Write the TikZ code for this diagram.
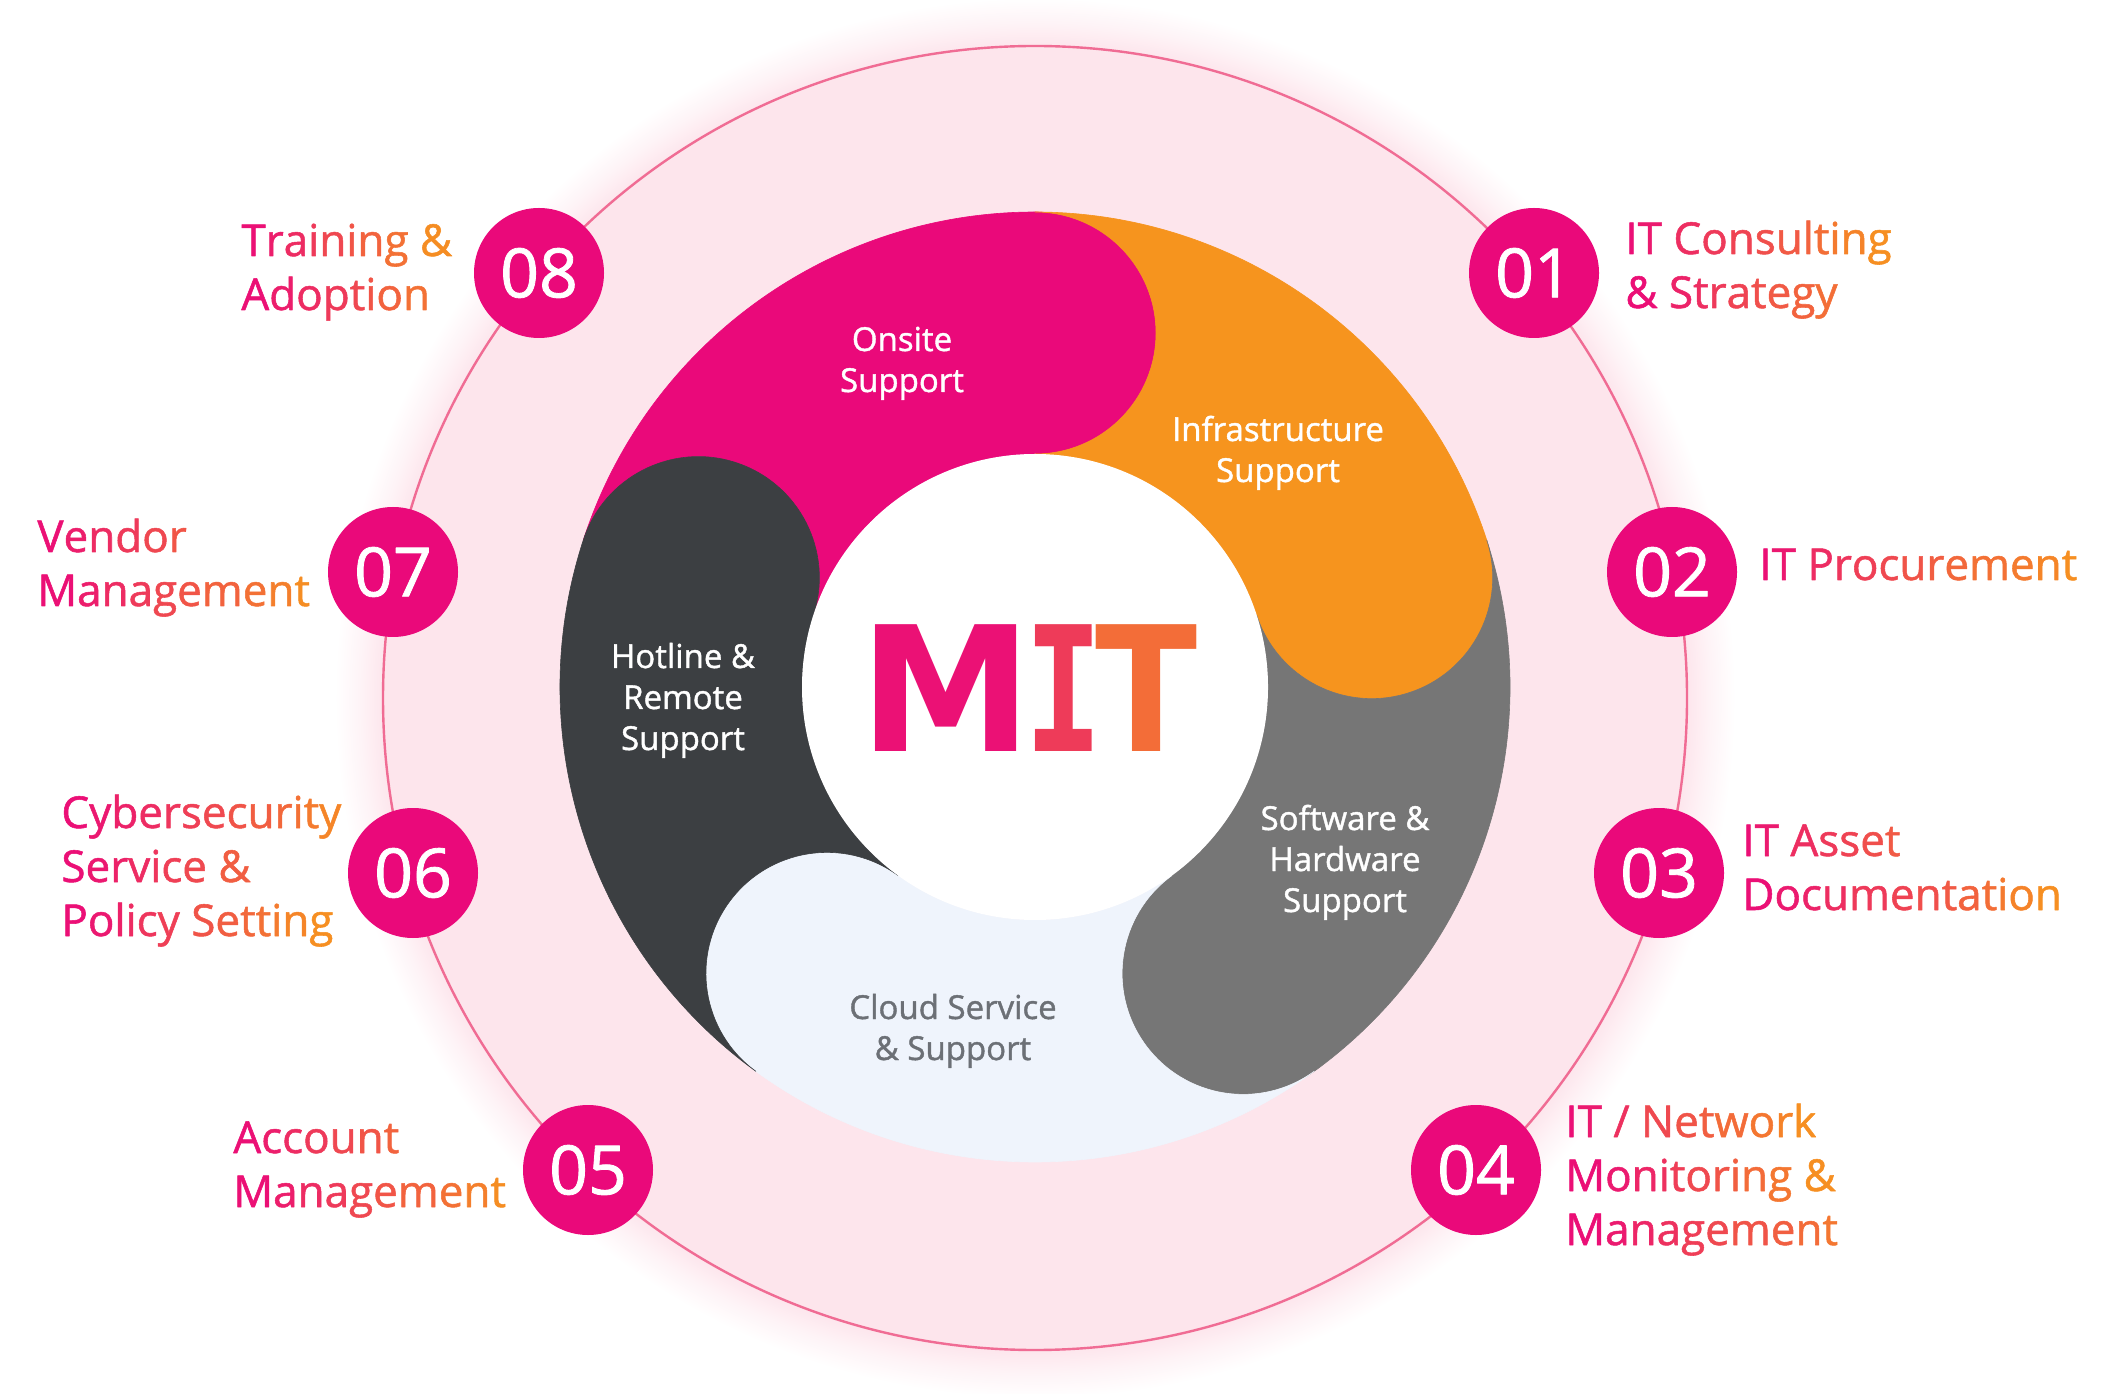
\documentclass[tikz,border=0pt]{standalone}
\usepackage{fontspec}
\usepackage{graphicx}

\IfFontExistsTF{Open Sans SemiBold}{\newfontfamily\mitsans{Open Sans SemiBold}}{\newfontfamily\mitsans{Open Sans}[FakeBold=1.2]}
\newfontfamily\mitheavy{DejaVu Sans}
\newfontfamily\mitmono{DejaVu Sans Mono}

% colours
\definecolor{mitmag}{RGB}{234,9,122}
\definecolor{mitorange}{RGB}{246,148,30}
\definecolor{mitgray}{RGB}{118,118,118}
\definecolor{mitdark}{RGB}{60,63,66}
\definecolor{mitcloud}{RGB}{239,244,252}
\definecolor{mitbg}{RGB}{253,229,236}
\definecolor{mitring}{RGB}{240,108,148}
\definecolor{cloudtext}{RGB}{108,112,118}

\pgfdeclareradialshading{ringglow}{\pgfpoint{0bp}{0bp}}{color(0bp)=(mitbg); color(23.25bp)=(mitbg); color(24.1bp)=(mitbg!45!white); color(25bp)=(white)}

\newcommand\outfont{\mitsans\fontsize{22}{27}\selectfont}
\newcommand\wheelfont{\mitsans\fontsize{16.5}{20.5}\selectfont}

% magenta-to-orange text, one colour per character
\ExplSyntaxOn
\int_new:N \l__mit_idx_int
\NewDocumentCommand \gradline { m m }
  {
    \int_zero:N \l__mit_idx_int
    \exp_args:No \str_map_inline:nn {#2}
      {
        \int_incr:N \l__mit_idx_int
        \tl_if_blank:nTF {##1}
          { \c_space_tl }
          {
            \group_begin:
            \color{mitorange!\fp_eval:n { min(100, round(100*(\l__mit_idx_int-0.5)/#1)) }!mitmag}
            ##1
            \group_end:
          }
      }
  }
\ExplSyntaxOff

% name, x, y of first baseline, characters of widest line, lines
\newcommand\gradlabel[5]{%
  \foreach \ln [count=\k] in {#5}
    \node[outtext] (#1-\k) at (#2,#3-54*\k+54) {\gradline{#4}{\ln}};}

\tikzset{
  numdot/.style={circle, fill=mitmag, text=white, minimum size=65pt, inner sep=0pt, font=\mitsans\fontsize{34}{34}\selectfont},
  wheeltext/.style={inner sep=0pt, anchor=base, text=white, font=\wheelfont},
  outtext/.style={inner sep=0pt, anchor=base west, font=\outfont},
  mitletter/.style={inner sep=0pt, anchor=base, font=\fontsize{87}{87}\selectfont\bfseries},
}

\begin{document}
\begin{tikzpicture}[x=0.5pt, y=0.5pt, line join=round, line cap=round]
\useasboundingbox (0,0) rectangle (2112,1393);
\path (1035,695) coordinate (R) (1035,706) coordinate (C);

% pink disc with its soft edge and the ring
\shade[shading=ringglow] (R) circle (700);
\draw[mitring, line width=1.2pt] (R) circle (652);

% the five swirl pieces
\foreach \a/\clr in {90/mitmag, 18/mitorange, -54/mitgray, -126/mitcloud, -198/mitdark}{
  \pgfmathsetmacro\b{\a+72}
  \filldraw[fill=\clr, draw=\clr, line width=0.3pt] ([shift={(\b:475)}]C) arc[start angle=\b, end angle=\a, radius=475]
    arc[start angle=\a, end angle=\a-180, radius=121]
    arc[start angle=\a, end angle=\b, radius=233]
    arc[start angle=\b-180, end angle=\b, radius=121] -- cycle;
}
\fill[white] (C) circle (233);

% MIT
\node[mitletter, text=mitorange!6!mitmag] (mitM) at (946,641) {\mitheavy M};
\node[mitletter, text=mitorange!36!mitmag] (mitI) at (1064,641) {\scalebox{0.75}[1]{\mitmono I}};
\node[mitletter, text=mitorange!72!mitmag] (mitT) at (1147,641) {\scalebox{0.86}[1]{\mitheavy T}};

% labels in the swirl
\node[wheeltext] (onsite) at (902,1042) {\begin{tabular}[t]{@{}c@{}}Onsite\\Support\end{tabular}};
\node[wheeltext] (infra) at (1278,952) {\begin{tabular}[t]{@{}c@{}}Infrastructure\\Support\end{tabular}};
\node[wheeltext] (hotline) at (683,725) {\begin{tabular}[t]{@{}c@{}}Hotline \&\\Remote\\Support\end{tabular}};
\node[wheeltext] (softhard) at (1345,563) {\begin{tabular}[t]{@{}c@{}}Software \&\\Hardware\\Support\end{tabular}};
\node[wheeltext, text=cloudtext] (cloud) at (953,374) {\begin{tabular}[t]{@{}c@{}}Cloud Service\\\& Support\end{tabular}};

% numbered dots on the ring
\foreach \n/\x/\y in {01/1534/1120, 02/1672/821, 03/1659/520, 04/1476/223, 05/588/223, 06/413/520, 07/393/821, 08/539/1120}
  \node[numdot] (n\n) at (\x,\y) {\n};

% service names
\gradlabel{lab01}{1625}{1139}{13}{IT Consulting,& Strategy}
\gradlabel{lab02}{1759}{813}{14}{IT Procurement}
\gradlabel{lab03}{1742}{537}{13}{IT Asset,Documentation}
\gradlabel{lab04}{1565}{256}{12}{IT / Network,Monitoring &,Management}
\gradlabel{lab05}{233}{240}{10}{Account,Management}
\gradlabel{lab06}{61}{565}{14}{Cybersecurity,Service &,Policy Setting}
\gradlabel{lab07}{37}{841}{10}{Vendor,Management}
\gradlabel{lab08}{241}{1137}{10}{Training &,Adoption}
\end{tikzpicture}
\end{document}
